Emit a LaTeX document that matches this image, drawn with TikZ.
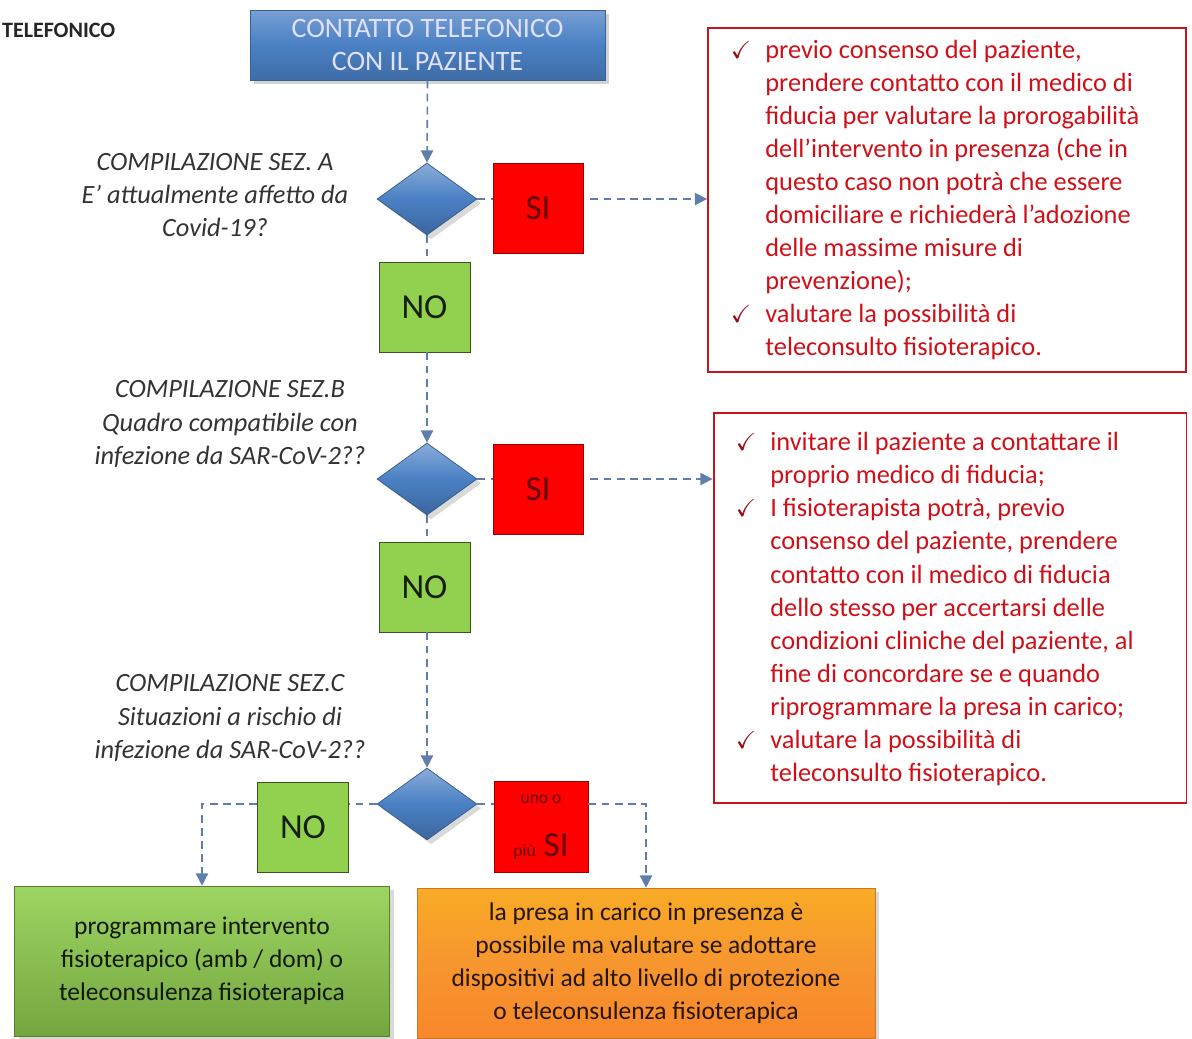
\documentclass[tikz,border=0pt]{standalone}
\usepackage{fontspec}
\setmainfont{Carlito}
\usepackage{amssymb}
\usetikzlibrary{shapes.geometric,arrows.meta,shadows}
\definecolor{flowblue}{HTML}{5F7FAA}
\definecolor{boxred}{HTML}{C8141E}
\definecolor{textred}{HTML}{D01018}
\definecolor{nogreen}{HTML}{92D050}
\definecolor{startblue}{HTML}{4A80C4}
\definecolor{boxorange}{HTML}{F7962F}
\newcommand{\chk}{\llap{{\color{boxred!75!black}\fontsize{14}{14}\selectfont\checkmark}\hspace{8pt}}}

\begin{document}
\begin{tikzpicture}[x=0.02cm, y=-0.02cm,
  flow/.style={draw=flowblue, line width=0.9pt, dash pattern=on 4.5pt off 3pt,
    -{Triangle[length=7pt,width=7pt]}},
  link/.style={draw=flowblue, line width=0.9pt, dash pattern=on 4.5pt off 3pt},
  startbox/.style={rectangle, draw=startblue!75!black, top color=startblue!75!white, bottom color=startblue!85!black,
    middle color=startblue, text=white!88!blue, font=\fontsize{16}{18.8}\selectfont, align=center,
    minimum width=7.1cm, minimum height=1.4cm, drop shadow={opacity=0.35}},
  question/.style={diamond, draw=startblue!70!black, top color=startblue!65!white, bottom color=startblue!80!black,
    middle color=startblue, minimum width=2cm, minimum height=1.44cm, inner sep=0pt, drop shadow={opacity=0.3}},
  yesbox/.style={rectangle, draw=red!60!black, fill=red, text=red!40!black,
    font=\fontsize{20}{20}\selectfont, minimum width=1.8cm, minimum height=1.8cm},
  nobox/.style={rectangle, draw=nogreen!40!black, fill=nogreen, text=nogreen!15!black,
    font=\fontsize{20}{20}\selectfont, minimum width=1.82cm, minimum height=1.8cm},
  notebox/.style={rectangle, draw=boxred, line width=1.1pt, fill=white},
  notetext/.style={text=textred, font=\fontsize{15}{18.8}\selectfont, align=left, inner sep=0pt, anchor=west},
  asktext/.style={text=black!80, font=\itshape\fontsize{15}{18.8}\selectfont, align=center},
  endbox/.style={rectangle, align=center, font=\fontsize{14.5}{18.8}\selectfont,
    minimum height=3cm, drop shadow={opacity=0.3}}]
\useasboundingbox (0,0) rectangle (1192,1038);
%title
\node[anchor=west, font=\bfseries\fontsize{12.5}{14}\selectfont, text=black!85] (title) at (-4,30) {TELEFONICO};
\node[startbox] (start) at (427.5,45) {CONTATTO TELEFONICO\\CON IL PAZIENTE};
%sez. A
\node[asktext] (askA) at (215,195) {COMPILAZIONE SEZ. A\\E’ attualmente affetto da\\Covid-19?};
\node[question] (d1) at (427,199) {};
\node[yesbox] (si1) at (538,208) {SI};
\node[nobox] (no1) at (424.5,307) {NO};
\node[notebox, minimum width=9.56cm, minimum height=6.88cm] (red1) at (947,200) {};
\node[notetext] (red1txt) at (765,200) {\chk previo consenso del paziente,\\
prendere contatto con il medico di\\
fiducia per valutare la prorogabilità\\
dell’intervento in presenza (che in\\
questo caso non potrà che essere\\
domiciliare e richiederà l’adozione\\
delle massime misure di\\
prevenzione);\\
\chk valutare la possibilità di\\
teleconsulto fisioterapico.};
%sez. B
\node[asktext] (askB) at (230,424) {COMPILAZIONE SEZ.B\\Quadro compatibile con\\infezione da SAR-CoV-2??};
\node[question] (d2) at (427,479) {};
\node[yesbox] (si2) at (538,489) {SI};
\node[nobox] (no2) at (424.5,587) {NO};
\node[notebox, minimum width=9.46cm, minimum height=7.8cm] (red2) at (950,608) {};
\node[notetext] (red2txt) at (770,609) {\chk invitare il paziente a contattare il\\
proprio medico di fiducia;\\
\chk I fisioterapista potrà, previo\\
consenso del paziente, prendere\\
contatto con il medico di fiducia\\
dello stesso per accertarsi delle\\
condizioni cliniche del paziente, al\\
fine di concordare se e quando\\
riprogrammare la presa in carico;\\
\chk valutare la possibilità di\\
teleconsulto fisioterapico.};
%sez. C
\node[asktext] (askC) at (230,718) {COMPILAZIONE SEZ.C\\Situazioni a rischio di\\infezione da SAR-CoV-2??};
\node[question] (d3) at (427,804) {};
\node[nobox] (no3) at (303,827) {NO};
\node[yesbox, minimum width=1.88cm, minimum height=1.82cm, align=center] (si3) at (541,827)
  {{\fontsize{10}{10}\selectfont uno o}\\[10pt]{\fontsize{10}{10}\selectfont più} SI};
%results
\node[endbox, minimum width=7.5cm, draw=nogreen!60!black, top color=nogreen!90!white, bottom color=nogreen!80!black,
  text=nogreen!12!black] (green) at (202,961)
  {programmare intervento\\fisioterapico (amb / dom) o\\teleconsulenza fisioterapica};
\node[endbox, minimum width=9.16cm, draw=boxorange!80!black, top color=boxorange!80!yellow, bottom color=boxorange!90!red,
  middle color=boxorange, text=boxorange!15!black] (orange) at (646,963)
  {la presa in carico in presenza è\\possibile ma valutare se adottare\\dispositivi ad alto livello di protezione\\o teleconsulenza fisioterapica};
%connectors
\draw[flow] (start.south) -- (d1.north);
\draw[link] (d1.east) -- (d1.east -| si1.west);
\draw[flow, shorten <=4pt] (d1.east -| si1.east) -- (d1.east -| red1.west);
\draw[link] (d1.south) -- (d1.south |- no1.north);
\draw[flow] (d2.north |- no1.south) -- (d2.north);
\draw[link] (d2.east) -- (d2.east -| si2.west);
\draw[flow, shorten <=4pt] (d2.east -| si2.east) -- (d2.east -| red2.west);
\draw[link] (d2.south) -- (d2.south |- no2.north);
\draw[flow] (d3.north |- no2.south) -- (d3.north);
\draw[link] (d3.west) -- (d3.west -| no3.east);
\draw[flow] (d3.west -| no3.west) -| (green.north);
\draw[link] (d3.east) -- (d3.east -| si3.west);
\draw[flow] (d3.east -| si3.east) -| (orange.north);
\end{tikzpicture}
\end{document}
